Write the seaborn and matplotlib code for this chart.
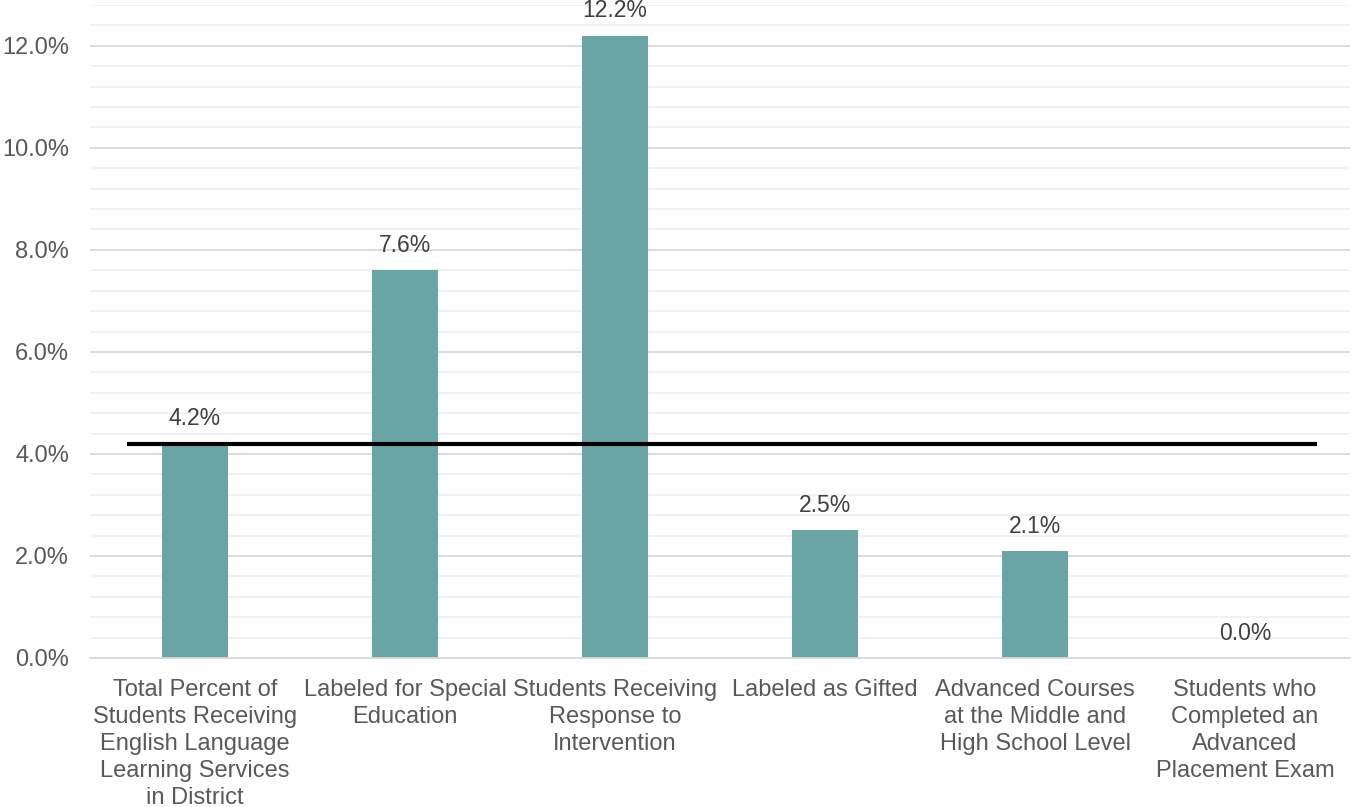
import matplotlib
matplotlib.use("Agg")
import matplotlib.pyplot as plt
from matplotlib.ticker import MultipleLocator, FuncFormatter
import seaborn as sns
import pandas as pd

categories = [
    "Total Percent of\nStudents Receiving\nEnglish Language\nLearning Services\nin District",
    "Labeled for Special\nEducation",
    "Students Receiving\nResponse to\nIntervention",
    "Labeled as Gifted",
    "Advanced Courses\nat the Middle and\nHigh School Level",
    "Students who\nCompleted an\nAdvanced\nPlacement Exam",
]
values = [4.2, 7.6, 12.2, 2.5, 2.1, 0.0]
reference_level = 4.2

sns.set_theme(style="white")
plt.rcParams["font.family"] = ["Liberation Sans", "DejaVu Sans"]

df = pd.DataFrame({"category": categories, "value": values})

fig = plt.figure(figsize=(13.52, 8.07), dpi=100)
ax = fig.add_axes([90 / 1352, 1 - 658 / 807, 1260 / 1352, 653 / 807])

sns.barplot(data=df, x="category", y="value", color="#69A5A5",
            width=0.315, saturation=1, linewidth=0, ax=ax, zorder=2)

ax.set_ylim(0, 12.8)
ax.set_xlim(-0.5, len(categories) - 0.5)
ax.yaxis.set_major_locator(MultipleLocator(2))
ax.yaxis.set_minor_locator(MultipleLocator(0.4))
ax.yaxis.set_major_formatter(FuncFormatter(lambda v, _: f"{v:.1f}%"))
ax.grid(axis="y", which="major", color="#D9D9D9", linewidth=1.3, zorder=0)
ax.grid(axis="y", which="minor", color="#F0F0F0", linewidth=1.3, zorder=0)
ax.set_axisbelow(True)

for side in ["top", "right", "left"]:
    ax.spines[side].set_visible(False)
ax.spines["bottom"].set_color("#D9D9D9")
ax.spines["bottom"].set_linewidth(1.3)

ax.tick_params(axis="y", which="both", length=0, labelsize=17, labelcolor="#595959", pad=15)
ax.tick_params(axis="x", length=0, labelsize=17, labelcolor="#595959", pad=15)
ax.set_xlabel("")
ax.set_ylabel("")
for lbl in ax.get_xticklabels():
    lbl.set_linespacing(1.3)

# value labels above bars
for i, v in enumerate(values):
    ax.text(i, v + 0.26, f"{v:.1f}%", ha="center", va="bottom",
            fontsize=16.5, color="#404040", zorder=3)

# district reference line
ax.plot([-0.325, 5.345], [reference_level, reference_level],
        color="black", linewidth=3, solid_capstyle="butt", zorder=3, clip_on=False)

fig.savefig("out.png", dpi=100)
